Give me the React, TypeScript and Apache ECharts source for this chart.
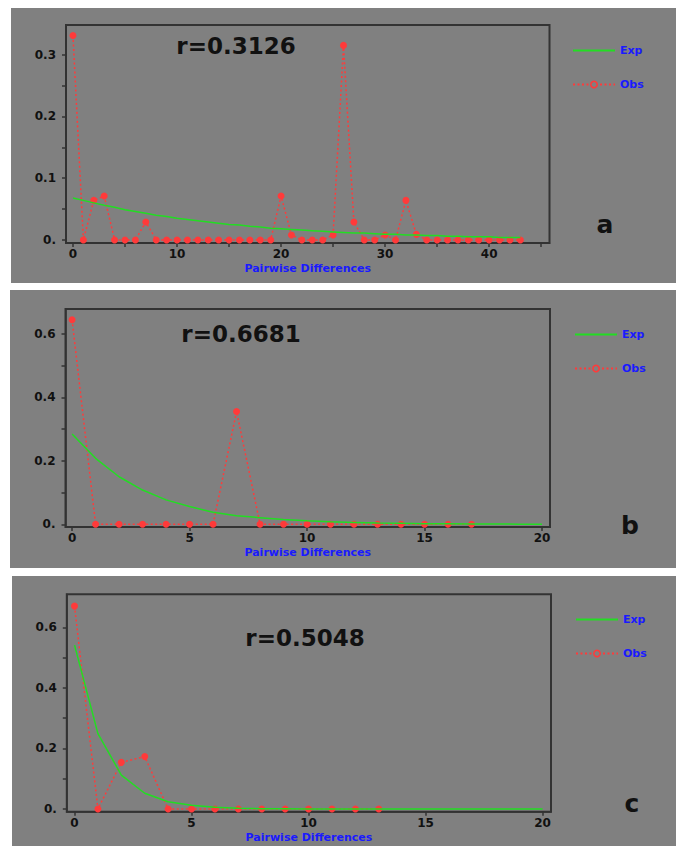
import React, { useEffect, useRef } from "react";
import * as echarts from "echarts";

// ---------- data ----------
const obsA = [0.331, 0, 0.064, 0.071, 0, 0, 0, 0.029, 0, 0, 0, 0, 0, 0, 0, 0, 0, 0, 0, 0, 0.071, 0.008, 0, 0, 0, 0.008, 0.315, 0.029, 0, 0, 0.008, 0, 0.064, 0.009, 0, 0, 0, 0, 0, 0, 0, 0, 0, 0];
const expA = [0.068, 0.064, 0.06, 0.056, 0.053, 0.049, 0.046, 0.043, 0.04, 0.038, 0.035, 0.033, 0.031, 0.029, 0.027, 0.025, 0.024, 0.022, 0.021, 0.019, 0.018, 0.017, 0.016, 0.015, 0.014, 0.013, 0.012, 0.011, 0.011, 0.01, 0.009, 0.009, 0.008, 0.008, 0.007, 0.007, 0.006, 0.006, 0.005, 0.005, 0.005, 0.004, 0.004, 0.004];

const obsB = [0.645, 0, 0, 0, 0, 0, 0, 0.356, 0, 0, 0, 0, 0, 0, 0, 0, 0, 0];
const expB = [0.285, 0.208, 0.15, 0.108, 0.077, 0.056, 0.038, 0.027, 0.021, 0.015, 0.011, 0.008, 0.006, 0.004, 0.003, 0.002, 0.0015, 0.001, 0.001, 0.0005, 0.0005];

const obsC = [0.67, 0, 0.154, 0.173, 0, 0, 0, 0, 0, 0, 0, 0, 0, 0];
const expC = [0.541, 0.249, 0.112, 0.052, 0.024, 0.012, 0.0055, 0.0025, 0.001, 0.0005, 0, 0, 0, 0, 0, 0, 0, 0, 0, 0, 0];

const titles = ["r=0.3126", "r=0.6681", "r=0.5048"];
const panelLetters = ["a", "b", "c"];
const xName = "Pairwise Differences";

const xTicksA = [0, 5, 10, 15, 20, 25, 30, 35, 40, 45];
const xLabelsA = [0, 10, 20, 30, 40];
const xTicksBC = [0, 5, 10, 15, 20];
const xLabelsBC = [0, 5, 10, 15, 20];
const yTicksA = [0, 0.05, 0.1, 0.15, 0.2, 0.25, 0.3];
const yLabelsA = [0, 0.1, 0.2, 0.3];
const yTicksBC = [0, 0.1, 0.2, 0.3, 0.4, 0.5, 0.6];
const yLabelsBC = [0, 0.2, 0.4, 0.6];

// ---------- layout ----------
const FONT = "DejaVu Sans";
const panels = [
  { bg: [11, 8, 665, 275], grid: [66, 25, 483.5, 218], x: [-0.67, 45.8], y: [-0.005, 0.348], xt: xTicksA, xl: xLabelsA, yt: yTicksA, yl: yLabelsA, obs: obsA, exp: expA, title: [236, 46], letter: [605, 224], legend: [572, 45] },
  { bg: [10, 290, 666, 278], grid: [65.5, 309, 484.5, 218], x: [-0.28, 20.34], y: [-0.0085, 0.679], xt: xTicksBC, xl: xLabelsBC, yt: yTicksBC, yl: yLabelsBC, obs: obsB, exp: expB, title: [241, 334], letter: [630, 525], legend: [574, 329] },
  { bg: [12, 576, 664, 270], grid: [66.8, 594.3, 484.2, 217.4], x: [-0.33, 20.36], y: [-0.009, 0.709], xt: xTicksBC, xl: xLabelsBC, yt: yTicksBC, yl: yLabelsBC, obs: obsC, exp: expC, title: [305, 638], letter: [632, 803], legend: [575, 614] },
];

const axisColor = "#333333";
const labelStyle = { color: "#111111", fontFamily: FONT, fontWeight: "bold" as const, fontSize: 12 };

function buildOption() {
  const grid: any[] = [];
  const xAxis: any[] = [];
  const yAxis: any[] = [];
  const series: any[] = [];
  const legend: any[] = [];
  const graphic: any[] = [];

  panels.forEach((p, i) => {
    graphic.push({
      type: "rect",
      z: -10,
      silent: true,
      shape: { x: p.bg[0], y: p.bg[1], width: p.bg[2], height: p.bg[3] },
      style: { fill: "#808080" },
    });
    graphic.push({
      type: "text",
      x: p.title[0],
      y: p.title[1],
      style: {
        text: titles[i],
        fill: "#111111",
        font: `bold 23px "${FONT}"`,
        textAlign: "center",
        textVerticalAlign: "middle",
      },
    });
    graphic.push({
      type: "text",
      x: p.letter[0],
      y: p.letter[1],
      style: {
        text: panelLetters[i],
        fill: "#111111",
        font: `bold 25px "${FONT}"`,
        textAlign: "center",
        textVerticalAlign: "middle",
      },
    });

    grid.push({
      left: p.grid[0],
      top: p.grid[1],
      width: p.grid[2],
      height: p.grid[3],
      show: true,
      backgroundColor: "transparent",
      borderColor: axisColor,
      borderWidth: 2,
    });

    xAxis.push({
      type: "value",
      gridIndex: i,
      min: p.x[0],
      max: p.x[1],
      splitLine: { show: false },
      axisLine: { show: true, onZero: false, lineStyle: { color: axisColor, width: 1.5 } },
      axisTick: { show: true, length: 4, customValues: p.xt, lineStyle: { color: axisColor, width: 1.5 } },
      axisLabel: {
        ...labelStyle,
        margin: 5,
        customValues: p.xl,
        formatter: (v: number) => String(v),
      },
      name: xName,
      nameLocation: "middle",
      nameGap: 20,
      nameTextStyle: { color: "#1a1aff", fontFamily: FONT, fontWeight: "bold", fontSize: 11 },
    });

    yAxis.push({
      type: "value",
      gridIndex: i,
      min: p.y[0],
      max: p.y[1],
      splitLine: { show: false },
      axisLine: { show: true, onZero: false, lineStyle: { color: axisColor, width: 1.5 } },
      axisTick: { show: true, length: 4, customValues: p.yt, lineStyle: { color: axisColor, width: 1.5 } },
      axisLabel: {
        ...labelStyle,
        margin: 10,
        customValues: p.yl,
        formatter: (v: number) => (Math.abs(v) < 1e-9 ? "0." : v.toFixed(1)),
      },
    });

    series.push({
      name: "Obs",
      type: "line",
      xAxisIndex: i,
      yAxisIndex: i,
      data: p.obs.map((v, k) => [k, v]),
      symbol: "circle",
      symbolSize: 7,
      itemStyle: { color: "#ff3a3a" },
      lineStyle: { color: "#ff3a3a", width: 1.5, type: [2, 2.5] },
      z: 2,
    });
    series.push({
      name: "Exp",
      type: "line",
      xAxisIndex: i,
      yAxisIndex: i,
      data: p.exp.map((v, k) => [k, v]),
      symbol: "none",
      itemStyle: { color: "#22dd22" },
      lineStyle: { color: "#22dd22", width: 1.5 },
      z: 3,
    });

    legend.push({
      data: [
        { name: "Exp", icon: "path://M0,0 L42,0 L42,2 L0,2 Z" },
        {
          name: "Obs",
          itemStyle: { color: "#808080", borderColor: "#ff3a3a", borderWidth: 1.5 },
        },
      ],
      orient: "vertical",
      left: p.legend[0],
      top: p.legend[1],
      padding: 0,
      itemWidth: 42,
      itemHeight: 8,
      itemGap: 23,
      selectedMode: false,
      textStyle: { color: "#1a1aff", fontFamily: FONT, fontWeight: "bold", fontSize: 11 },
    });
  });

  return {
    animation: false,
    backgroundColor: "#ffffff",
    grid,
    xAxis,
    yAxis,
    series,
    legend,
    graphic,
  };
}

export default function App() {
  const ref = useRef<HTMLDivElement>(null);
  useEffect(() => {
    if (!ref.current) return;
    const chart = echarts.init(ref.current, undefined, { renderer: "svg" });
    chart.setOption(buildOption() as any);
    return () => chart.dispose();
  }, []);
  return (
    <div
      ref={ref}
      style={{ position: "absolute", left: 0, top: 0, width: 676, height: 846 }}
    />
  );
}
